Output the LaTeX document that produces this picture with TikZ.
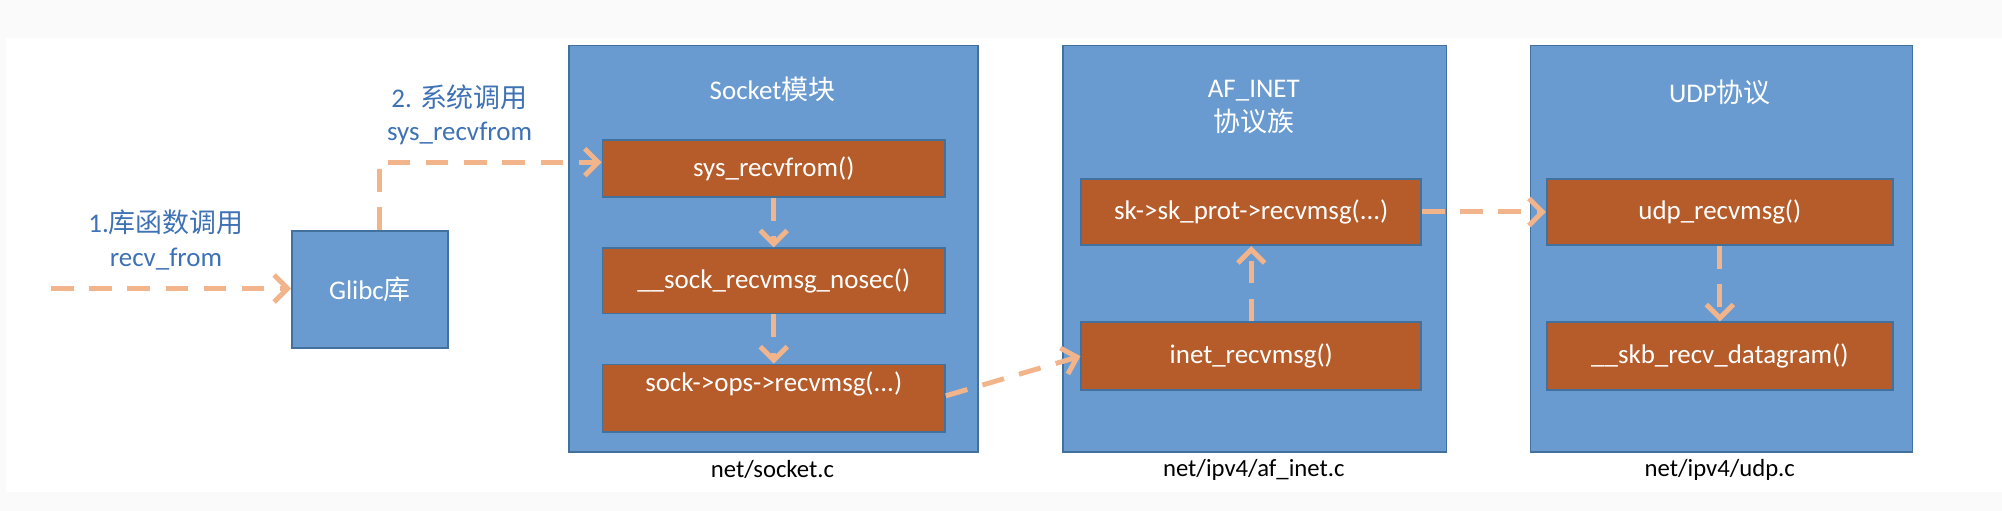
\documentclass[tikz,border=0pt]{standalone}
\usepackage{fontspec}
\setmainfont{Carlito}
\newfontfamily\cjk{Noto Sans CJK SC}
\usetikzlibrary{positioning,arrows.meta}
\definecolor{boxblue}{HTML}{6A9BD0}
\definecolor{boxedge}{HTML}{41719C}
\definecolor{fnbrown}{HTML}{B65C2A}
\definecolor{fnedge}{HTML}{41719C}
\definecolor{arrorange}{HTML}{F2B48A}
\definecolor{lblblue}{HTML}{3E72B5}
\tikzstyle{modbox}=[rectangle, draw=boxedge, fill=boxblue, line width=0.4pt, anchor=north west]
\tikzstyle{fnbox}=[rectangle, draw=fnedge, fill=fnbrown, line width=0.4pt, minimum width=2.68cm,
                   minimum height=0.48cm, inner sep=0pt, text=white, font=\fontsize{6}{7}\selectfont]
\tikzstyle{title}=[text=white, align=center, font=\fontsize{6}{7.5}\selectfont]
\tikzstyle{pline}=[dashed, dash pattern=on 5pt off 3.5pt, line width=1.1pt, draw=arrorange,
                   -{Straight Barb[length=3pt,width=6pt]}]
\tikzstyle{lbl}=[text=lblblue, align=center, font=\fontsize{6}{7.5}\selectfont]

\begin{document}
\begin{tikzpicture}[x=0.01cm, y=-0.01cm]
\fill[gray!4] (0,0) rectangle (1568,400);
\fill[white] (5,30) rectangle (1568,385);
\useasboundingbox (0,0) rectangle (1568,400);

% Glibc
\node (GLIBC) [modbox, minimum width=1.22cm, minimum height=0.92cm] at (228,180) {};
\node [title] at (GLIBC.center) {Glibc{\cjk 库}};

% socket module
\node (SOCKMOD) [modbox, minimum width=3.2cm, minimum height=3.18cm] at (445,35) {};
\node [title] at (605,70) {Socket{\cjk 模块}};
\node (SYSRECV) [fnbox, minimum height=0.45cm] at (606,132) {sys\_recvfrom()};
\node (NOSEC) [fnbox, minimum height=0.51cm] at (606,220) {\_\_sock\_recvmsg\_nosec()};
\node (OPSRECV) [fnbox, minimum height=0.53cm, text depth=0.26cm] at (606,312) {sock->ops->recvmsg(...)};
\node at (605,368) {\fontsize{5.5}{6.5}\selectfont net/socket.c};

% AF_INET
\node (INETMOD) [modbox, minimum width=3cm, minimum height=3.18cm] at (832,35) {};
\node [title] at (982,84) {AF\_INET\\{\cjk 协议族}};
\node (SKPROT) [fnbox, minimum width=2.66cm, minimum height=0.52cm] at (980,166) {sk->sk\_prot->recvmsg(...)};
\node (INETRECV) [fnbox, minimum width=2.66cm, minimum height=0.53cm] at (980,279) {inet\_recvmsg()};
\node at (982,368) {\fontsize{5.5}{6.5}\selectfont net/ipv4/af\_inet.c};

% UDP
\node (UDPMOD) [modbox, minimum width=2.99cm, minimum height=3.18cm] at (1198,35) {};
\node [title] at (1347,72) {UDP{\cjk 协议}};
\node (UDPRECV) [fnbox, minimum width=2.71cm, minimum height=0.52cm] at (1347,166) {udp\_recvmsg()};
\node (SKBRECV) [fnbox, minimum width=2.71cm, minimum height=0.53cm] at (1347,279) {\_\_skb\_recv\_datagram()};
\node at (1347,368) {\fontsize{5.5}{6.5}\selectfont net/ipv4/udp.c};

% calls
\coordinate (START) at (40,226);
\draw[pline] (START) -- (START -| GLIBC.west);
\node [lbl] at (130,188) {1.{\cjk 库函数调用}\\recv\_from};
\draw[pline] (297,180) -- (297,127) -- (SYSRECV.west |- 0,127);
\node [lbl] at (360,90) {2. {\cjk 系统调用}\\sys\_recvfrom};
\draw[pline] (SYSRECV) -- (NOSEC);
\draw[pline] (NOSEC) -- (OPSRECV);
\draw[pline] (OPSRECV.east |- 0,310) -- (INETRECV.west);
\draw[pline] (INETRECV) -- (SKPROT);
\draw[pline] (SKPROT) -- (UDPRECV);
\draw[pline] (UDPRECV) -- (SKBRECV);
\end{tikzpicture}
\end{document}
